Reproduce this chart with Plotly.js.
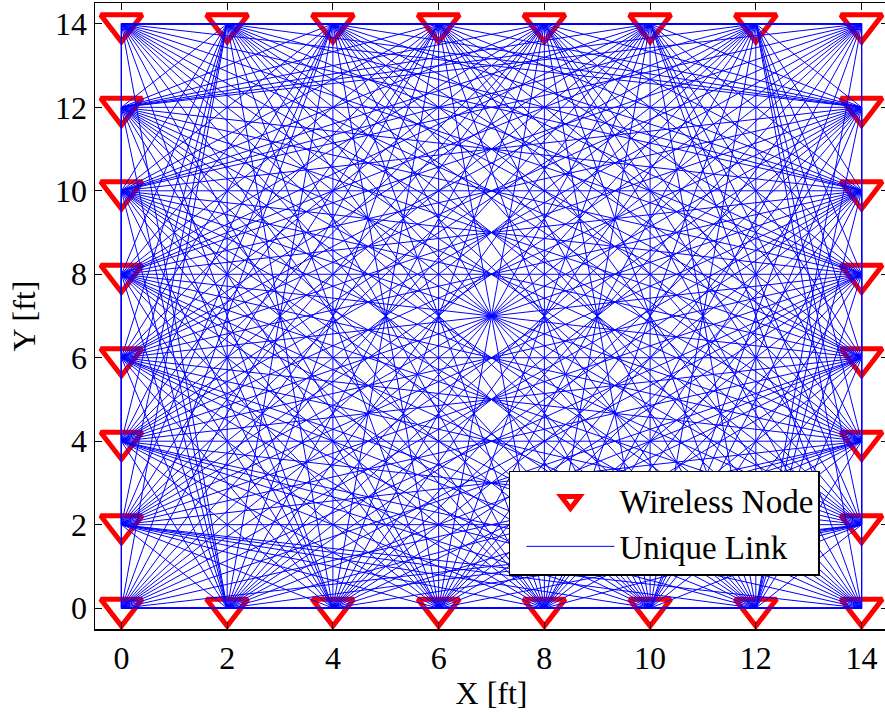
<!DOCTYPE html>
<html>
<head>
<meta charset="utf-8">
<script src="https://cdn.plot.ly/plotly-3.0.1.min.js"></script>
<style>
  html, body { margin: 0; padding: 0; overflow: hidden; background: #fff; }
  #chart { width: 890px; height: 713px; }
</style>
</head>
<body>
<div id="chart"></div>
<script>
// Wireless node positions (ft), around the perimeter of the 14 x 14 ft area
const nodeX = [0, 2, 4, 6, 8, 10, 12, 14, 14, 14, 14, 14, 14, 14, 12, 10, 8, 6, 4, 2, 0, 0, 0, 0, 0, 0, 0, 14];
const nodeY = [0, 0, 0, 0, 0, 0, 0, 0, 2, 4, 6, 8, 10, 12, 14, 14, 14, 14, 14, 14, 14, 12, 10, 8, 6, 4, 2, 14];
const tickVals = [0, 2, 4, 6, 8, 10, 12, 14];
const tickText = ['0', '2', '4', '6', '8', '10', '12', '14'];
const nodeName = 'Wireless Node';
const linkName = 'Unique Link';

// Unique links: every pair of nodes, joined by a straight segment
const linkX = [], linkY = [];
for (let i = 0; i < nodeX.length; i++) {
  for (let j = i + 1; j < nodeX.length; j++) {
    linkX.push(nodeX[i], nodeX[j], null);
    linkY.push(nodeY[i], nodeY[j], null);
  }
}

const font = 'Liberation Serif, Times New Roman, serif';

const traces = [
  {
    x: nodeX, y: nodeY, name: nodeName, type: 'scatter', mode: 'markers',
    marker: { symbol: 'triangle-down-open', size: 36, color: '#ff0000',
              line: { width: 5, color: '#ff0000' } },
    hoverinfo: 'x+y'
  },
  {
    x: linkX, y: linkY, name: linkName, type: 'scatter', mode: 'lines',
    line: { color: '#0000ff', width: 1 },
    hoverinfo: 'skip'
  }
];

const axisCommon = {
  showgrid: false, zeroline: false, showline: true, mirror: 'ticks',
  linecolor: '#000', linewidth: 1.5, ticks: 'inside', ticklen: 7, tickwidth: 1,
  tickcolor: '#000', tickvals: tickVals, ticktext: tickText,
  tickfont: { family: font, size: 32, color: '#000' }
};

const layout = {
  width: 890, height: 713,
  margin: { l: 95, r: 2, t: 3, b: 84 },
  paper_bgcolor: '#fff', plot_bgcolor: '#fff',
  font: { family: font, color: '#000' },
  xaxis: Object.assign({}, axisCommon, {
    range: [-0.5, 14.5],
    title: { text: 'X [ft]', font: { family: font, size: 32, color: '#000' }, standoff: 6 }
  }),
  yaxis: Object.assign({}, axisCommon, {
    range: [-0.5, 14.5],
    title: { text: 'Y [ft]', font: { family: font, size: 32, color: '#000' }, standoff: 10 }
  }),
  showlegend: true,
  legend: {
    x: 0.522, y: 0.2524, xanchor: 'left', yanchor: 'top',
    bgcolor: '#fff', bordercolor: '#000', borderwidth: 1.5,
    itemwidth: 88, indentation: 11,
    font: { family: font, size: 33, color: '#000' }
  }
};

Plotly.newPlot('chart', traces, layout, { displayModeBar: false, staticPlot: true });
</script>
</body>
</html>
